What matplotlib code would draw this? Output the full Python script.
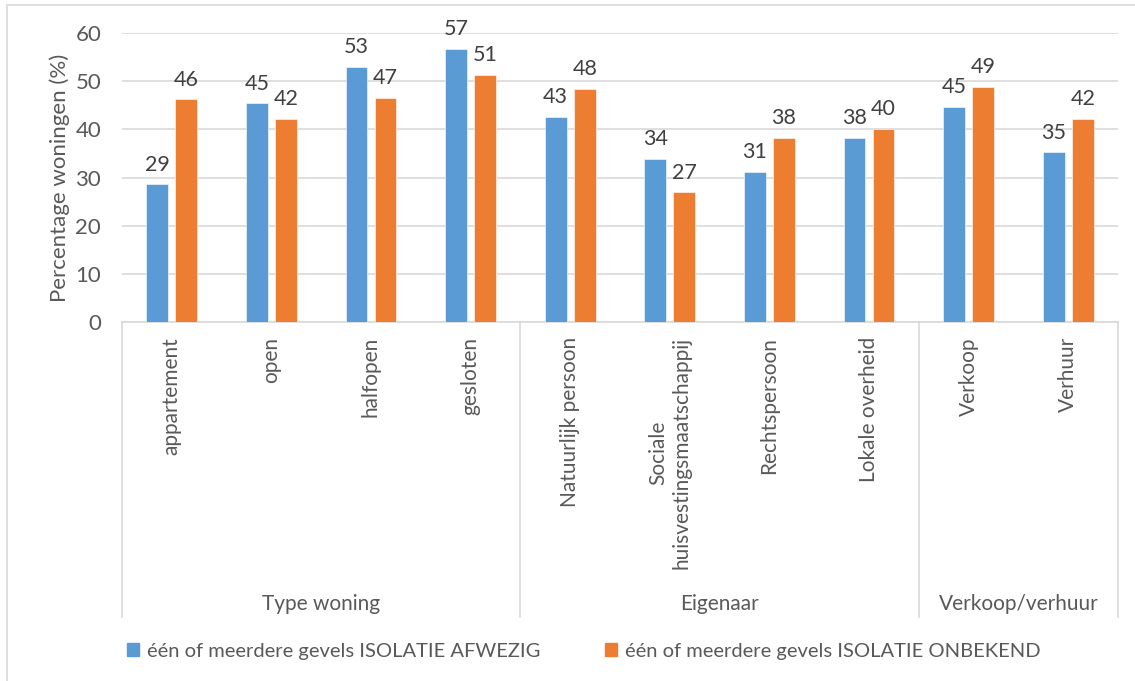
import numpy as np
import matplotlib as mpl
mpl.use('Agg')
import matplotlib.pyplot as plt
from matplotlib.patches import Rectangle
from matplotlib.lines import Line2D


plt.rcParams['font.family'] = ['Lato', 'DejaVu Sans']

categories = ['appartement', 'open', 'halfopen', 'gesloten',
              'Natuurlijk persoon', 'Sociale\nhuisvestingsmaatschappij',
              'Rechtspersoon', 'Lokale overheid',
              'Verkoop', 'Verhuur']
group_names = ['Type woning', 'Eigenaar', 'Verkoop/verhuur']
group_sizes = [4, 4, 2]
series_names = ['één of meerdere gevels ISOLATIE AFWEZIG',
                'één of meerdere gevels ISOLATIE ONBEKEND']
afwezig = [28.6, 45.4, 52.9, 56.7, 42.6, 33.8, 31.1, 38.2, 44.7, 35.2]
onbekend = [46.2, 42.1, 46.6, 51.3, 48.4, 26.9, 38.2, 40.1, 48.8, 42.1]
yticks = [0, 10, 20, 30, 40, 50, 60]

blue, orange = '#5B9BD5', '#ED7D31'
text_col = '#595959'
grid_col = '#D9D9D9'

fig = plt.figure(figsize=(11.35, 6.81), dpi=100)
ax = fig.add_axes([122 / 1135, 1 - 322 / 681, 996 / 1135, 289 / 681])

# outer chart frame (runs off the right and bottom edge)
fig.patches.append(Rectangle((7 / 1135, -0.1), 1.2, 1.1 - 5 / 681,
                             transform=fig.transFigure, fill=False,
                             edgecolor=grid_col, linewidth=1.2))

x = np.arange(len(categories))
width, offset = 0.22, 0.146
for vals, dx, col in [(afwezig, -offset, blue), (onbekend, offset, orange)]:
    bars = ax.bar(x + dx, vals, width, color=col, zorder=3,
                  edgecolor='white', linewidth=0.4)
    for b, v in zip(bars, vals):
        ax.annotate('%.0f' % v, (b.get_x() + b.get_width() / 2, v),
                    xytext=(0, 7), textcoords='offset points',
                    ha='center', va='bottom', fontsize=15.5, color='#404040')

ax.set_xlim(-0.5, len(categories) - 0.5)
ax.set_ylim(0, 60)
ax.set_yticks(yticks)
ax.tick_params(axis='y', length=0, pad=15, labelsize=16, labelcolor=text_col)
ax.set_xticks([])
ax.yaxis.grid(True, color=grid_col, linewidth=1.2, zorder=0)
for s in ['top', 'right', 'left']:
    ax.spines[s].set_visible(False)
ax.spines['bottom'].set_color(grid_col)
ax.spines['bottom'].set_linewidth(1.2)
ax.set_ylabel('Percentage woningen (%)', fontsize=16, color=text_col,
              labelpad=4)

# two-level category axis
trans = ax.get_xaxis_transform()
for i, name in enumerate(categories):
    ax.text(i, -0.052, name, transform=trans, rotation=90, ha='center',
            va='top', multialignment='center', fontsize=15, color=text_col)
edges = np.concatenate([[0], np.cumsum(group_sizes)]) - 0.5
for e in edges:
    ax.add_line(Line2D([e, e], [0, -1.021], transform=trans, color=grid_col,
                       linewidth=1.2, clip_on=False))
for name, lo, hi in zip(group_names, edges[:-1], edges[1:]):
    ax.text((lo + hi) / 2, -0.976, name, transform=trans, ha='center',
            va='center', fontsize=15, color=text_col)

handles = [Rectangle((0, 0), 1, 1, color=blue), Rectangle((0, 0), 1, 1, color=orange)]
fig.legend(handles, series_names, loc='center', ncol=2,
           bbox_to_anchor=(584 / 1135, 1 - 651 / 681), frameon=False,
           fontsize=14.5, labelcolor=text_col, handlelength=0.6,
           handleheight=0.6, handletextpad=0.4, columnspacing=3.2)

plt.savefig('out.png', dpi=100)
plt.close()
